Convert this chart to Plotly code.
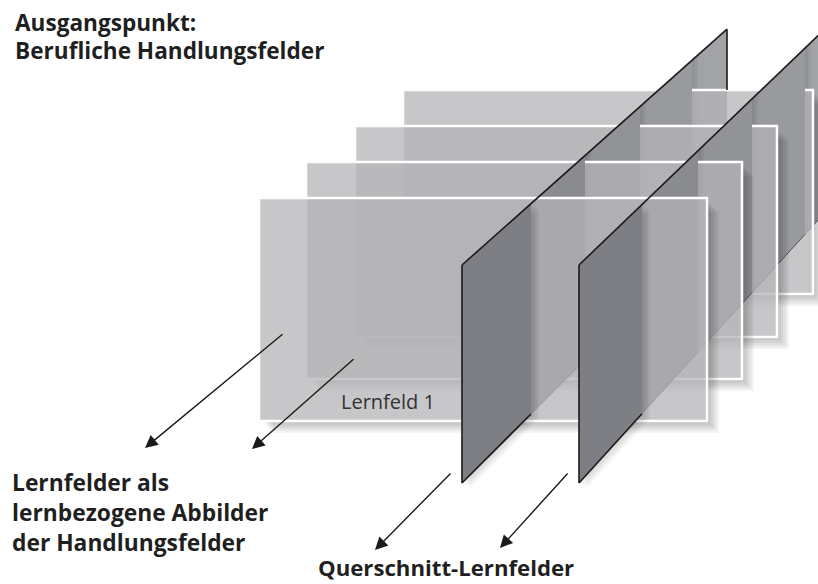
import plotly.graph_objects as go

# ---- diagram geometry (pixel space, y downwards) ----
rect_left = [259, 306, 355, 403]      # front -> back
rect_top = [198, 162, 126, 90]
rect_right = [707, 742, 777, 813]
rect_bottom = [421, 379, 337, 294]
rect_labels = ["Lernfeld 1", "", "", ""]

panel_front_x = [462, 579]
panel_top_y = [265, 265]
panel_bottom_y = [483, 483]
panel_top_slope = [-0.89, -0.96]
panel_bottom_slope = [-1.0, -1.1]
# x where each panel crosses rect plane 1..4, then its back edge
panel_cuts = [[531, 585, 640, 692, 727], [642, 698, 752, 805, 850]]
# panel tone per depth segment: front, behind plane 1..4
panel_tones = ["#7e7f84", "#8a8b8f", "#929397", "#999a9e", "#a2a3a7"]

arrow_tail_x = [284, 355, 452, 569]
arrow_tail_y = [333, 358, 472, 472]
arrow_head_x = [145, 252, 375, 500]
arrow_head_y = [448, 449, 550, 548]

title_lines = ["Ausgangspunkt:", "Berufliche Handlungsfelder"]
left_lines = ["Lernfelder als", "lernbezogene Abbilder", "der Handlungsfelder"]
bottom_label = "Querschnitt-Lernfelder"

W, H = 818, 584
TXT = "#1f1f1f"
FONT = "Open Sans"

fig = go.Figure()
shapes = []


def panel_pt(i, x, which):
    x0 = panel_front_x[i]
    if which == "top":
        return panel_top_y[i] + panel_top_slope[i] * (x - x0)
    return panel_bottom_y[i] + panel_bottom_slope[i] * (x - x0)


def quad(i, xa, xb, dx=0, dy=0):
    return "M {a},{ta} L {b},{tb} L {b},{bb} L {a},{ba} Z".format(
        a=xa + dx, b=xb + dx,
        ta=panel_pt(i, xa, "top") + dy, tb=panel_pt(i, xb, "top") + dy,
        bb=panel_pt(i, xb, "bot") + dy, ba=panel_pt(i, xa, "bot") + dy)


def add_path(p, color):
    shapes.append(dict(type="path", path=p, xref="x", yref="y",
                       fillcolor=color, line=dict(width=0), layer="above"))


def add_line(x0, y0, x1, y1, color, width):
    shapes.append(dict(type="line", xref="x", yref="y", x0=x0, y0=y0,
                       x1=x1, y1=y1, line=dict(color=color, width=width),
                       layer="above"))


def rect_shadow(k):
    L, T, R, B = rect_left[k], rect_top[k], rect_right[k], rect_bottom[k]
    for o in (2, 4, 6, 8, 10, 12):
        p = ("M {R},{T1} L {R2},{T1} L {R2},{B2} L {L1},{B2} L {L1},{B} "
             "L {R},{B} Z").format(R=R, T1=T + o + 2, R2=R + o, B2=B + o,
                                    L1=L + o + 2, B=B)
        add_path(p, "rgba(0,0,0,0.045)")


def rect(k):
    shapes.append(dict(type="rect", xref="x", yref="y",
                       x0=rect_left[k], x1=rect_right[k],
                       y0=rect_top[k], y1=rect_bottom[k],
                       fillcolor="rgba(180,180,184,0.74)",
                       line=dict(color="white", width=2.5), layer="above"))


# back to front: panel segment behind plane k, then rect k
for k in (3, 2, 1, 0):
    for i in range(2):
        xa = panel_cuts[i][k]
        xb = panel_cuts[i][k + 1]
        add_path(quad(i, xa, xb), panel_tones[k + 1])
        for o in (3, 6):
            add_path(quad(i, xa, min(xa + o, xb)), "rgba(0,0,0,0.05)")
        add_line(xa, panel_pt(i, xa, "bot"), xb, panel_pt(i, xb, "bot"),
                 "#555", 1)
    rect_shadow(k)
    rect(k)

# front segments (in front of rect 1)
for i in range(2):
    x0 = panel_front_x[i]
    x1 = panel_cuts[i][0]
    for o in (2, 4, 6, 8):
        add_path(quad(i, x0, x1, o, o * 0.6), "rgba(0,0,0,0.04)")
    add_path(quad(i, x0, x1), panel_tones[0])
    add_line(x0, panel_top_y[i], x0, panel_bottom_y[i], "#1a1a1a", 1.6)
    add_line(x0, panel_bottom_y[i], x1, panel_pt(i, x1, "bot"), "#1a1a1a", 1.6)
    xb = panel_cuts[i][-1]
    add_line(x0, panel_top_y[i], xb, panel_pt(i, xb, "top"), "#1a1a1a", 1.6)
    add_line(xb, panel_pt(i, xb, "top"), xb, rect_top[3], "#1a1a1a", 1.6)

fig.update_layout(shapes=shapes)

ann = []
for tx, ty, hx, hy in zip(arrow_tail_x, arrow_tail_y, arrow_head_x, arrow_head_y):
    ann.append(dict(x=hx, y=hy, ax=tx, ay=ty, xref="x", yref="y",
                    axref="x", ayref="y", text="", showarrow=True,
                    arrowhead=2, arrowsize=1.8, arrowwidth=1.4,
                    arrowcolor="#1a1a1a"))

for j, t in enumerate(title_lines):
    ann.append(dict(x=13, y=22 + 28 * j, xref="x", yref="y", text="<b>%s</b>" % t,
                    showarrow=False, xanchor="left", yanchor="middle",
                    font=dict(family=FONT, size=22.6, color=TXT)))
for j, t in enumerate(left_lines):
    ann.append(dict(x=10, y=482 + 30 * j, xref="x", yref="y", text="<b>%s</b>" % t,
                    showarrow=False, xanchor="left", yanchor="middle",
                    font=dict(family=FONT, size=22.8, color=TXT)))
ann.append(dict(x=446, y=567, xref="x", yref="y", text="<b>%s</b>" % bottom_label,
                showarrow=False, xanchor="center", yanchor="middle",
                font=dict(family=FONT, size=22.2, color=TXT)))
for k, t in enumerate(rect_labels):
    if t:
        ann.append(dict(x=rect_left[k] + 80, y=rect_bottom[k] - 20, xref="x", yref="y",
                        text=t, showarrow=False, xanchor="left", yanchor="middle",
                        font=dict(family=FONT, size=20, color="#333")))

fig.update_layout(
    annotations=ann,
    width=W, height=H,
    margin=dict(l=0, r=0, t=0, b=0),
    paper_bgcolor="white", plot_bgcolor="white",
    showlegend=False,
    xaxis=dict(range=[0, W], visible=False, fixedrange=True),
    yaxis=dict(range=[H, 0], visible=False, fixedrange=True),
)

fig.write_html("out.html", config={"displayModeBar": False},
               post_script="document.body.style.margin='0';")
